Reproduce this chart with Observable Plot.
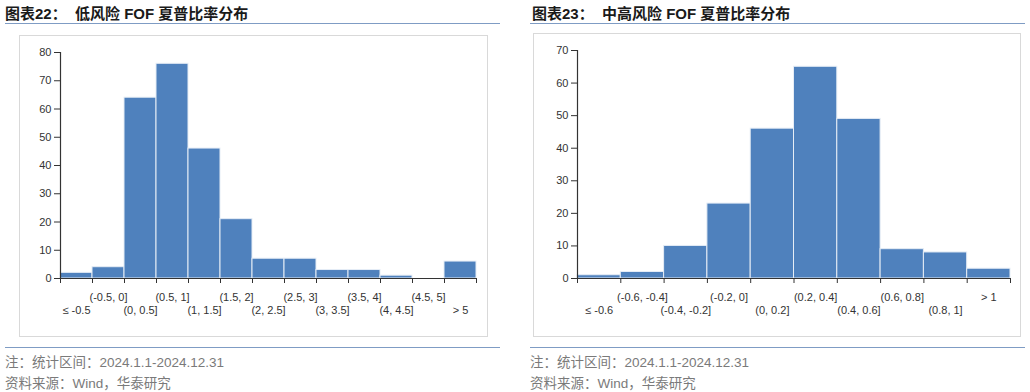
<!DOCTYPE html>
<html>
<head>
<meta charset="utf-8">
<script src="https://cdn.jsdelivr.net/npm/d3@7"></script>
<script src="https://cdn.jsdelivr.net/npm/@observablehq/plot@0.6"></script>
<style>
  html, body { margin: 0; padding: 0; background: #fff; }
  body { width: 1030px; height: 392px; position: relative; overflow: hidden;
         font-family: "Liberation Sans", Arial, "Noto Sans CJK SC", sans-serif; }
  .title { position: absolute; top: 2px; font-size: 15px; font-weight: bold; color: #1a1a1a;
           font-family: "Liberation Sans", Arial, "Noto Sans CJK SC", sans-serif; white-space: nowrap; }
  .hline { position: absolute; height: 0; border-top: 1.5px solid #7f9cc4; }
  .box { position: absolute; border: 1px solid #d9d9d9; box-sizing: border-box; }
  .foot { position: absolute; font-size: 13.5px; color: #7a7a7a; white-space: nowrap;
          font-family: "Liberation Sans", Arial, "Noto Sans CJK SC", sans-serif; }
  .chart { position: absolute; }
</style>
</head>
<body>
<div class="title" style="left:5px">图表22：&nbsp;&nbsp;低风险 FOF 夏普比率分布</div>
<div class="hline" style="left:5px; width:495px; top:23px"></div>
<div class="box" style="left:19px; top:35px; width:469px; height:302px"></div>
<div class="chart" id="c1" style="left:19px; top:36px"></div>
<div class="hline" style="left:5px; width:495px; top:347px"></div>
<div class="foot" style="left:5px; top:351px">注：统计区间：2024.1.1-2024.12.31</div>
<div class="foot" style="left:5px; top:372px">资料来源：Wind，华泰研究</div>

<div class="title" style="left:532px">图表23：&nbsp;&nbsp;中高风险 FOF 夏普比率分布</div>
<div class="hline" style="left:530px; width:495px; top:23px"></div>
<div class="box" style="left:533px; top:33px; width:488px; height:304px"></div>
<div class="chart" id="c2" style="left:533px; top:35px"></div>
<div class="hline" style="left:530px; width:495px; top:347px"></div>
<div class="foot" style="left:530px; top:351px">注：统计区间：2024.1.1-2024.12.31</div>
<div class="foot" style="left:530px; top:372px">资料来源：Wind，华泰研究</div>

<script>
const lowCategories = ["≤ -0.5", "(-0.5, 0]", "(0, 0.5]", "(0.5, 1]", "(1, 1.5]", "(1.5, 2]", "(2, 2.5]", "(2.5, 3]", "(3, 3.5]", "(3.5, 4]", "(4, 4.5]", "(4.5, 5]", "> 5"];
const lowCounts = [2, 4, 64, 76, 46, 21, 7, 7, 3, 3, 1, 0, 6];
const lowYTicks = [0, 10, 20, 30, 40, 50, 60, 70, 80];

const highCategories = ["≤ -0.6", "(-0.6, -0.4]", "(-0.4, -0.2]", "(-0.2, 0]", "(0, 0.2]", "(0.2, 0.4]", "(0.4, 0.6]", "(0.6, 0.8]", "(0.8, 1]", "> 1"];
const highCounts = [1, 2, 10, 23, 46, 65, 49, 9, 8, 3];
const highYTicks = [0, 10, 20, 30, 40, 50, 60, 70];

const barColor = "#4f81bd";

function histo(cats, counts, yTicks, dims) {
  const n = cats.length;
  const data = cats.map((c, i) => ({cat: c, i, v: counts[i]}));
  const centers = d3.range(n).map(i => i + 0.5);
  const upper = centers.filter((c, i) => i % 2 === 1);
  const lower = centers.filter((c, i) => i % 2 === 0);
  const fmt = c => cats[Math.floor(c)];
  return Plot.plot({
    width: dims.width,
    height: dims.height,
    marginLeft: dims.ml,
    marginRight: dims.mr,
    marginTop: dims.mt,
    marginBottom: dims.mb,
    style: {fontSize: "11px", fontFamily: "'Liberation Sans', Arial, sans-serif", color: "#333", background: "transparent"},
    x: {domain: [0, n], axis: null},
    y: {domain: [0, yTicks[yTicks.length - 1]], axis: null},
    marks: [
      Plot.rectY(data, {x1: d => d.i, x2: d => d.i + 1, y: "v", fill: barColor, stroke: "#e6edf6", strokeWidth: 1}),
      Plot.ruleY([0], {stroke: "#333", strokeWidth: 1.2}),
      Plot.ruleX([0], {stroke: "#333", strokeWidth: 1.2}),
      Plot.axisY({ticks: yTicks, label: null, tickSize: 6, tickPadding: 3, tickFormat: d => String(d), stroke: "#333", fill: "#333"}),
      Plot.axisX({ticks: d3.range(n + 1), label: null, tickSize: 5, tickFormat: () => "", stroke: "#333"}),
      Plot.axisX({ticks: upper, label: null, tickSize: 0, tickPadding: 15, tickFormat: fmt, fill: "#333"}),
      Plot.axisX({ticks: lower, label: null, tickSize: 0, tickPadding: 28, tickFormat: fmt, fill: "#333"})
    ]
  });
}

document.getElementById("c1").append(histo(lowCategories, lowCounts, lowYTicks,
  {width: 468, height: 300, ml: 41, mr: 11, mt: 16, mb: 58}));
document.getElementById("c2").append(histo(highCategories, highCounts, highYTicks,
  {width: 486, height: 300, ml: 44, mr: 9, mt: 15, mb: 57}));
</script>
</body>
</html>
